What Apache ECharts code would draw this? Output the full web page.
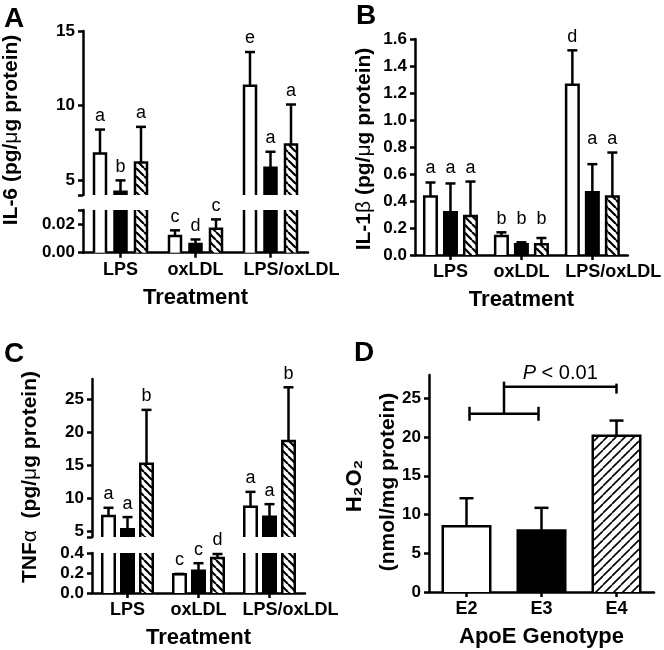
<!DOCTYPE html>
<html><head><meta charset="utf-8">
<script src="https://cdn.jsdelivr.net/npm/echarts@6/dist/echarts.min.js"></script>
<style>html,body{margin:0;padding:0;background:#fff}#c{width:664px;height:650px}</style>
</head><body><div id="c"></div><script>
// ---------- data ----------
const treatments = ['LPS', 'oxLDL', 'LPS/oxLDL'];
const genotypes = ['E2', 'E3', 'E4'];

// Panel A: IL-6 (pg/µg protein)
const il6E2 = [6.79, 0.0117, 11.32];
const il6E3 = [4.22, 0.0062, 5.83];
const il6E4 = [6.18, 0.0169, 7.39];
const il6ErrE2 = [1.60, 0.0040, 2.27];
const il6ErrE3 = [0.76, 0.0031, 1.07];
const il6ErrE4 = [2.39, 0.0065, 2.68];
const il6LettersE2 = ['a', 'c', 'e'];
const il6LettersE3 = ['b', 'd', 'a'];
const il6LettersE4 = ['a', 'c', 'a'];
const il6UpperTicks = [5, 10, 15];
const il6LowerTicks = [0, 0.02];

// Panel B: IL-1beta
const il1bE2 = [0.433, 0.141, 1.261];
const il1bE3 = [0.317, 0.079, 0.465];
const il1bE4 = [0.289, 0.079, 0.433];
const il1bErrE2 = [0.104, 0.027, 0.255];
const il1bErrE3 = [0.213, 0.015, 0.208];
const il1bErrE4 = [0.255, 0.047, 0.326];
const il1bLettersE2 = ['a', 'b', 'd'];
const il1bLettersE3 = ['a', 'b', 'a'];
const il1bLettersE4 = ['a', 'b', 'a'];
const il1bTicks = [0, 0.2, 0.4, 0.6, 0.8, 1.0, 1.2, 1.4, 1.6];

// Panel C: TNF-alpha
const tnfE2 = [7.35, 0.187, 8.75];
const tnfE3 = [5.36, 0.223, 7.25];
const tnfE4 = [15.25, 0.349, 18.65];
const tnfErrE2 = [1.25, 0.004, 2.25];
const tnfErrE3 = [1.84, 0.075, 1.90];
const tnfErrE4 = [8.10, 0.041, 8.10];
const tnfLettersE2 = ['a', 'c', 'a'];
const tnfLettersE3 = ['a', 'c', 'a'];
const tnfLettersE4 = ['b', 'd', 'b'];
const tnfUpperTicks = [5, 10, 15, 20, 25];
const tnfLowerTicks = [0, 0.2, 0.4];

// Panel D: H2O2
const h2o2Mean = [8.5, 7.94, 20.17];
const h2o2Err = [3.6, 2.92, 1.95];
const h2o2Ticks = [0, 5, 10, 15, 20, 25];
const bracketLevels = [23.0, 26.5];
const pText = '< 0.01';

// ---------- styling ----------
const FF = '"Liberation Sans", Arial, sans-serif';
const LW = 2.5;
function rt(size, weight, style) {
  return { fontSize: size, fontWeight: weight, fontFamily: FF, fontStyle: style || 'normal', fill: '#000', color: '#000' };
}
function hatchPattern(dir, size, lw) {
  const c = document.createElement('canvas');
  c.width = size; c.height = size;
  const ctx = c.getContext('2d');
  ctx.fillStyle = '#fff'; ctx.fillRect(0, 0, size, size);
  ctx.strokeStyle = '#000'; ctx.lineWidth = lw;
  ctx.beginPath();
  for (const k of [-size, 0, size]) {
    if (dir === 'back') { ctx.moveTo(k, 0); ctx.lineTo(k + size, size); }
    else { ctx.moveTo(k, size); ctx.lineTo(k + size, 0); }
  }
  ctx.stroke();
  return c;
}
const fillsABC = ['#fff', '#000', { image: hatchPattern('back', 8, 2.2), repeat: 'repeat' }];
const fillsD = ['#fff', '#000', { image: hatchPattern('fwd', 9, 1.6), repeat: 'repeat' }];

const panelA = { means: [il6E2, il6E3, il6E4], errs: [il6ErrE2, il6ErrE3, il6ErrE4], letters: [il6LettersE2, il6LettersE3, il6LettersE4], pitch: 20.5, barW: 12, cap: 5, fills: fillsABC, letterMode: 'bar' };
const panelB = { means: [il1bE2, il1bE3, il1bE4], errs: [il1bErrE2, il1bErrE3, il1bErrE4], letters: [il1bLettersE2, il1bLettersE3, il1bLettersE4], pitch: 20, barW: 12.5, cap: 5, fills: fillsABC, letterMode: 'sameLetter' };
const panelC = { means: [tnfE2, tnfE3, tnfE4], errs: [tnfErrE2, tnfErrE3, tnfErrE4], letters: [tnfLettersE2, tnfLettersE3, tnfLettersE4], pitch: 19, barW: 12.5, cap: 5, fills: fillsABC, letterMode: 'bar' };
const panelD = { means: [h2o2Mean], errs: [h2o2Err], letters: null, pitch: 0, barW: 47.5, cap: 7, fills: fillsD, fillByCat: true };

function renderBar(params, api, panel, g) {
  const ci = api.value(0), v = api.value(1), e = api.value(2);
  const cs = params.coordSys;
  const bottom = cs.y + cs.height;
  const pt = api.coord([ci, v]);
  const cx = pt[0] + (panel.fillByCat ? 0 : (g - 1) * panel.pitch);
  let yTop = pt[1];
  const children = [];
  if (yTop >= bottom - 0.01) return { type: 'group', children };
  const clipped = yTop < cs.y;
  if (clipped) yTop = cs.y;
  const hw = panel.barW / 2, L = cx - hw, R = cx + hw;
  const fill = panel.fills[panel.fillByCat ? ci : g];
  children.push({ type: 'rect', shape: { x: L, y: yTop, width: R - L, height: bottom - yTop }, style: { fill: fill } });
  if (!clipped) {
    children.push({ type: 'polyline', shape: { points: [[L, bottom], [L, yTop], [R, yTop], [R, bottom]] }, style: { stroke: '#000', lineWidth: LW, fill: 'none' } });
    const ye = api.coord([ci, v + e])[1];
    children.push({ type: 'line', shape: { x1: cx, y1: yTop, x2: cx, y2: ye }, style: { stroke: '#000', lineWidth: LW } });
    children.push({ type: 'line', shape: { x1: cx - panel.cap, y1: ye, x2: cx + panel.cap, y2: ye }, style: { stroke: '#000', lineWidth: LW } });
    if (panel.letters) {
      let ly = ye;
      if (panel.letterMode === 'sameLetter') {
        const mine = panel.letters[g][ci];
        const peers = [0, 1, 2].filter(k => panel.letters[k][ci] === mine);
        ly = Math.min.apply(null, peers.map(k => api.coord([ci, panel.means[k][ci] + panel.errs[k][ci]])[1]));
      }
      children.push({ type: 'text', x: cx, y: ly - 4.5, style: { text: panel.letters[g][ci], fill: '#000', font: '18px ' + FF, align: 'center', verticalAlign: 'bottom' } });
    }
  } else {
    children.push({ type: 'line', shape: { x1: L, y1: yTop, x2: L, y2: bottom }, style: { stroke: '#000', lineWidth: LW } });
    children.push({ type: 'line', shape: { x1: R, y1: yTop, x2: R, y2: bottom }, style: { stroke: '#000', lineWidth: LW } });
  }
  return { type: 'group', children };
}

function barSeries(panel, axisIdx, g) {
  const means = panel.means[g], errs = panel.errs[g];
  return {
    type: 'custom', xAxisIndex: axisIdx, yAxisIndex: axisIdx, silent: true,
    data: means.map((v, i) => [i, v, errs[i]]),
    encode: { x: 0, y: 1 },
    renderItem: (params, api) => renderBar(params, api, panel, g)
  };
}

// ---------- axes ----------
const grids = [
  { left: 83, top: 31, width: 225, height: 164 },   // A upper
  { left: 83, top: 210, width: 225, height: 42.7 }, // A lower
  { left: 415, top: 39, width: 215, height: 216 },  // B
  { left: 92, top: 379, width: 213, height: 158 },  // C upper
  { left: 92, top: 553, width: 213, height: 40 },   // C lower
  { left: 429, top: 375, width: 225, height: 217 }  // D
];

function xAxisCfg(gi, cats, name, show) {
  return {
    type: 'category', gridIndex: gi, data: cats, show: show,
    axisLine: { show: true, lineStyle: { color: '#000', width: LW } },
    axisTick: { show: true, alignWithLabel: true, length: 5, lineStyle: { color: '#000', width: LW } },
    axisLabel: {
      interval: 0, margin: 8, color: '#000', fontSize: 18, fontWeight: 'bold', fontFamily: FF,
      formatter: (v) => v === 'LPS/oxLDL' ? '{s|' + v + '}' : v,
      rich: { s: { padding: [0, 0, 0, 42], fontSize: 18, fontWeight: 'bold', fontFamily: FF, color: '#000' } }
    },
    name: name, nameLocation: 'middle', nameGap: 34,
    nameTextStyle: { color: '#000', fontSize: 22, fontWeight: 'bold', fontFamily: FF }
  };
}
function yAxisCfg(gi, min, max, labels, ticks, fmt) {
  return {
    type: 'value', gridIndex: gi, min: min, max: max,
    axisLine: { show: true, lineStyle: { color: '#000', width: LW } },
    axisTick: { show: true, length: 5, lineStyle: { color: '#000', width: LW }, customValues: ticks },
    axisLabel: { customValues: labels, formatter: fmt, color: '#000', fontSize: 17, fontWeight: 'bold', fontFamily: FF, margin: 8 },
    splitLine: { show: false }
  };
}

const xAxes = [
  xAxisCfg(0, treatments, '', false),
  xAxisCfg(1, treatments, 'Treatment', true),
  xAxisCfg(2, treatments, 'Treatment', true),
  xAxisCfg(3, treatments, '', false),
  xAxisCfg(4, treatments, 'Treatment', true),
  xAxisCfg(5, genotypes, 'ApoE Genotype', true)
];
const yAxes = [
  yAxisCfg(0, 4, 15, il6UpperTicks, [4].concat(il6UpperTicks), v => String(v)),
  yAxisCfg(1, 0, 0.03, il6LowerTicks, il6LowerTicks.concat([0.03]), v => v.toFixed(2)),
  yAxisCfg(2, 0, 1.6, il1bTicks, il1bTicks, v => v.toFixed(1)),
  yAxisCfg(3, 4.2, 28, tnfUpperTicks, [4.2].concat(tnfUpperTicks), v => String(v)),
  yAxisCfg(4, 0, 0.4, tnfLowerTicks, tnfLowerTicks, v => v.toFixed(1)),
  yAxisCfg(5, 0, 28, h2o2Ticks, h2o2Ticks, v => String(v))
];

const series = [];
[0, 1, 2].forEach(g => {
  series.push(barSeries(panelA, 0, g));
  series.push(barSeries(panelA, 1, g));
  series.push(barSeries(panelB, 2, g));
  series.push(barSeries(panelC, 3, g));
  series.push(barSeries(panelC, 4, g));
});
series.push(barSeries(panelD, 5, 0));
series.push({
  type: 'custom', xAxisIndex: 5, yAxisIndex: 5, silent: true,
  data: [[0, bracketLevels[0], bracketLevels[1]]],
  encode: { x: 0, y: 1 },
  renderItem: (params, api) => {
    const lo = api.value(1), hi = api.value(2);
    const p0 = api.coord([0, lo]), p1 = api.coord([1, lo]), p2 = api.coord([2, hi]);
    const yL = p0[1], yU = p2[1];
    const xm = (p0[0] + p1[0]) / 2;
    const st = { stroke: '#000', lineWidth: LW };
    const ln = (x1, y1, x2, y2) => ({ type: 'line', shape: { x1, y1, x2, y2 }, style: st });
    return {
      type: 'group', children: [
        ln(p0[0] + 3, yL, p1[0] - 3, yL),
        ln(p0[0] + 3, yL - 7, p0[0] + 3, yL + 7),
        ln(p1[0] - 3, yL - 7, p1[0] - 3, yL + 7),
        ln(xm, yL, xm, yU - 5),
        ln(xm, yU, p2[0], yU),
        ln(p2[0], yU - 3, p2[0], yU + 7),
        { type: 'text', x: (xm + p2[0]) / 2, y: yU - 3, style: {
          text: '{i|P} {n|' + pText + '}', align: 'center', verticalAlign: 'bottom',
          font: '20px ' + FF, fill: '#000',
          rich: { i: rt(20, 'normal', 'italic'), n: rt(20, 'normal') } } }
      ]
    };
  }
});

function titleText(x, y, text, rich) {
  return { type: 'text', x: x, y: y, rotation: Math.PI / 2, silent: true,
    style: { text: text, rich: rich, align: 'center', verticalAlign: 'middle', textAlign: 'center', textVerticalAlign: 'middle', font: 'bold 21px ' + FF, fill: '#000' } };
}
function panelLetter(x, y, t) {
  return { type: 'text', x: x, y: y, silent: true,
    style: { text: t, font: 'bold 28px ' + FF, fill: '#000', align: 'left', verticalAlign: 'middle', textAlign: 'left', textVerticalAlign: 'middle' } };
}
const richT = { b: rt(21, 'bold'), g: rt(21, 'normal') };
const graphic = [
  panelLetter(4, 19, 'A'), panelLetter(356, 16, 'B'), panelLetter(4, 354, 'C'), panelLetter(354, 353, 'D'),
  titleText(11, 130, '{b|IL-6 (pg/}{g|\u03bc}{b|g protein)}', richT),
  titleText(364, 149, '{b|IL-1}{g|\u03b2}{b| (pg/}{g|\u03bc}{b|g protein)}', richT),
  titleText(30, 477, '{b|TNF}{g|\u03b1}{b|  (pg/}{g|\u03bc}{b|g protein)}', richT),
  titleText(355, 486, '{b|H\u2082O\u2082}', { b: rt(22, 'bold') }),
  titleText(388, 482, '{b|(nmol/mg protein)}', { b: rt(21, 'bold') })
];

const chart = echarts.init(document.getElementById('c'), null, { renderer: 'canvas' });
chart.setOption({
  backgroundColor: '#fff',
  animation: false,
  grid: grids,
  xAxis: xAxes,
  yAxis: yAxes,
  series: series,
  graphic: graphic
});
</script></body></html>
